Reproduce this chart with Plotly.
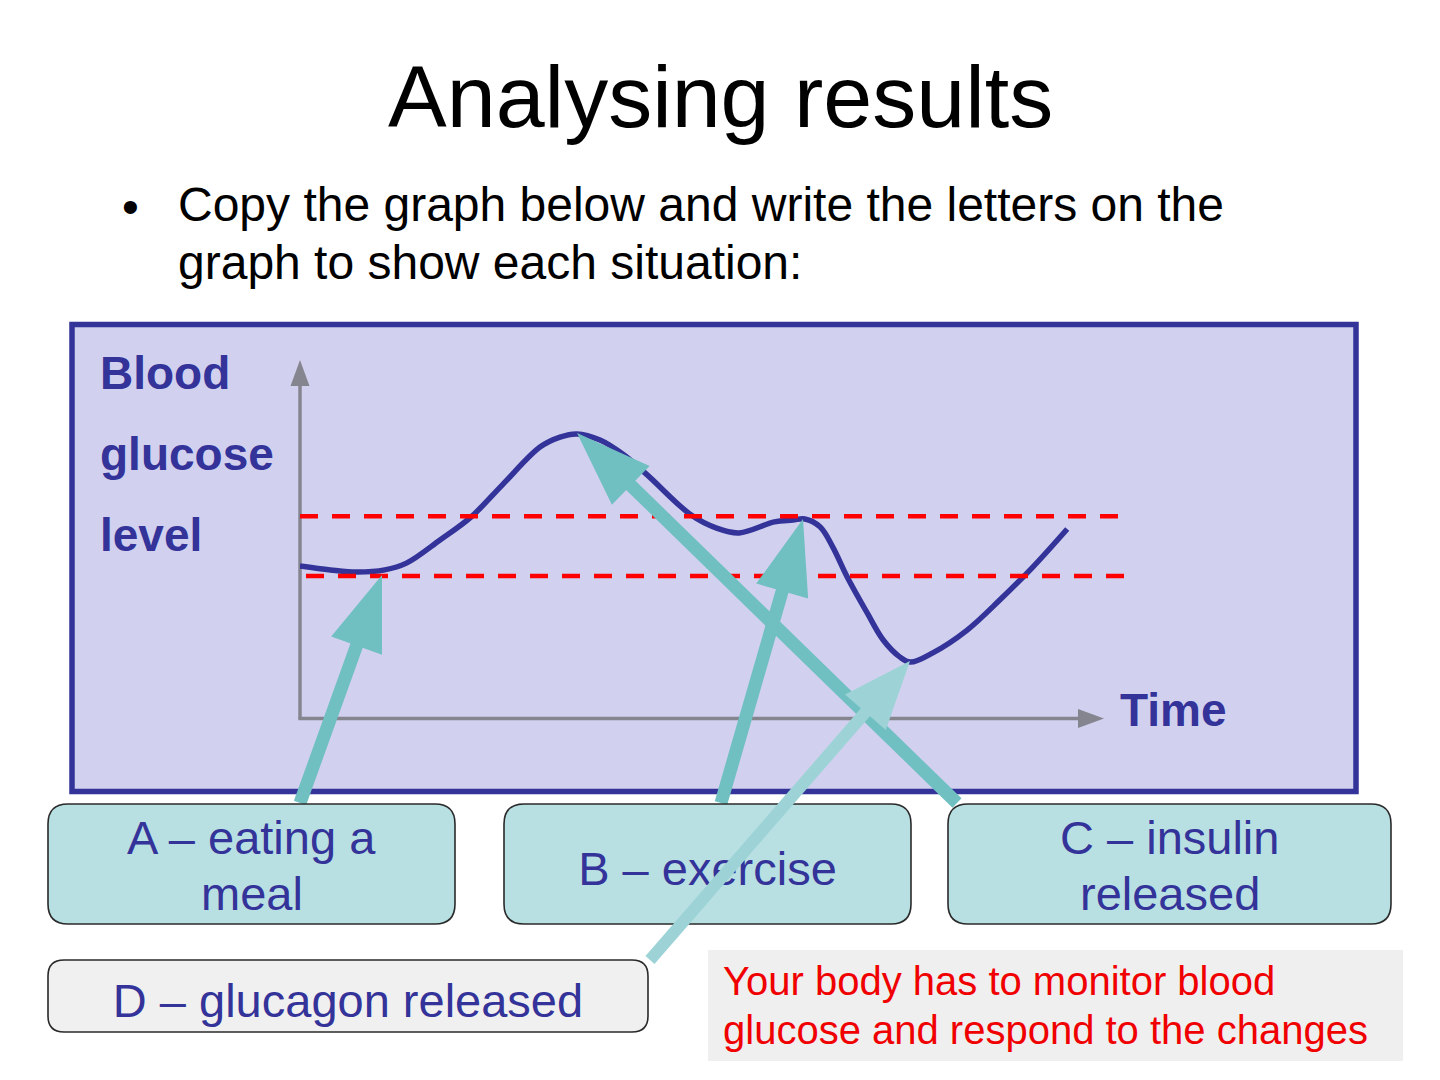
import math
import plotly.graph_objects as go

W, H = 1440, 1080

# ---------------- data ----------------
time = [0, 3.8, 7.1, 10.6, 13.3, 17.5, 21.4, 25.3, 30.0, 32.5, 34.6, 37.5, 40.5, 43.4,
        48.9, 52.0, 54.9, 59.3, 61.6, 63.1, 65.0, 66.6, 68.4, 70.9, 72.9, 75.0, 76.3,
        79.1, 83.4, 87.5, 91.6, 95.9]
glucose = [42.7, 41.6, 41.0, 41.6, 43.5, 50.0, 56.5, 65.5, 76.1, 78.9, 79.8, 78.1, 73.9, 68.3,
           57.0, 53.4, 52.0, 55.1, 55.6, 55.9, 53.7, 48.0, 39.6, 29.5, 21.9, 17.1, 15.7,
           18.3, 24.7, 33.2, 42.4, 53.1]
upper_time = [0, 103.5]
upper_level = [56.7, 56.7]
lower_time = [0.75, 104.3]
lower_level = [39.9, 39.9]

title_text = "Analysing results"
bullet_lines = ["Copy the graph below and write the letters on the",
                "graph to show each situation:"]
y_label_lines = ["Blood", "glucose", "level"]
x_label = "Time"
box_a_lines = ["A – eating a", "meal"]
box_b_label = "B – exercise"
box_c_lines = ["C – insulin", "released"]
box_d_label = "D – glucagon released"
note_lines = ["Your body has to monitor blood", "glucose and respond to the changes"]

# ---------------- styling ----------------
FONT = "Liberation Sans, Arial, sans-serif"
NAVY = "#333399"
TEAL = "#70BFC1"
TEAL_LIGHT = "#9DD3D6"
BOX_FILL = "#B8E0E3"
GREY_AX = "#858590"


def px(x):
    return x / W


def py(y):
    return 1 - y / H


shapes = []
annotations = []

# panel
shapes.append(dict(type="rect", xref="paper", yref="paper", layer="below",
                   x0=px(72), x1=px(1356), y0=py(324.5), y1=py(791.5),
                   fillcolor="#D1D1EF", line=dict(color=NAVY, width=5.5)))

# axes with arrowheads
shapes.append(dict(type="line", xref="paper", yref="paper", layer="below",
                   x0=px(300), x1=px(300), y0=py(719.5), y1=py(382),
                   line=dict(color=GREY_AX, width=3.5)))
shapes.append(dict(type="path", xref="paper", yref="paper", layer="below",
                   path=f"M{px(300)},{py(360)} L{px(309.5)},{py(386)} L{px(290.5)},{py(386)} Z",
                   fillcolor=GREY_AX, line=dict(width=0)))
shapes.append(dict(type="line", xref="paper", yref="paper", layer="below",
                   x0=px(298.5), x1=px(1082), y0=py(718.5), y1=py(718.5),
                   line=dict(color=GREY_AX, width=3.5)))
shapes.append(dict(type="path", xref="paper", yref="paper", layer="below",
                   path=f"M{px(1104)},{py(718.5)} L{px(1078)},{py(709)} L{px(1078)},{py(728)} Z",
                   fillcolor=GREY_AX, line=dict(width=0)))


def arrow(tail, tip, color, shaft_w=13, head_len=75, head_hw=27):
    dx, dy = tip[0] - tail[0], tip[1] - tail[1]
    L = math.hypot(dx, dy)
    ux, uy = dx / L, dy / L
    bx, by = tip[0] - ux * head_len, tip[1] - uy * head_len
    nx, ny = -uy, ux
    out = [dict(type="line", xref="paper", yref="paper", layer="above",
                x0=px(tail[0]), y0=py(tail[1]), x1=px(bx + ux * 3), y1=py(by + uy * 3),
                line=dict(color=color, width=shaft_w))]
    p1 = (bx + nx * head_hw, by + ny * head_hw)
    p2 = (bx - nx * head_hw, by - ny * head_hw)
    out.append(dict(type="path", xref="paper", yref="paper", layer="above",
                    path=f"M{px(tip[0])},{py(tip[1])} L{px(p1[0])},{py(p1[1])} "
                         f"L{px(p2[0])},{py(p2[1])} Z",
                    fillcolor=color, line=dict(width=0)))
    return out


def rrect(x0, y0, x1, y1, r):
    return (f"M{px(x0 + r)},{py(y0)} L{px(x1 - r)},{py(y0)} Q{px(x1)},{py(y0)} {px(x1)},{py(y0 + r)} "
            f"L{px(x1)},{py(y1 - r)} Q{px(x1)},{py(y1)} {px(x1 - r)},{py(y1)} "
            f"L{px(x0 + r)},{py(y1)} Q{px(x0)},{py(y1)} {px(x0)},{py(y1 - r)} "
            f"L{px(x0)},{py(y0 + r)} Q{px(x0)},{py(y0)} {px(x0 + r)},{py(y0)} Z")


def box(x0, y0, x1, y1, fill, text=None, r=20):
    d = dict(type="path", xref="paper", yref="paper", layer="above",
             path=rrect(x0, y0, x1, y1, r), fillcolor=fill,
             line=dict(color="#2A2A2A", width=1.6))
    if text:
        d["label"] = dict(text=text, textposition="middle center",
                          font=dict(family=FONT, size=47, color=NAVY))
    return d


shapes += arrow((300, 803), (382, 575), TEAL)
shapes += arrow((721, 803), (803, 519), TEAL)
shapes += arrow((957, 803), (577, 433), TEAL)
shapes.append(box(48, 804, 455, 924, BOX_FILL))
shapes.append(box(504, 804, 911, 924, BOX_FILL, box_b_label))
shapes.append(box(948, 804, 1391, 924, BOX_FILL))
shapes += arrow((650, 960), (910, 661), TEAL_LIGHT, shaft_w=12, head_len=68, head_hw=27)
shapes.append(box(48, 960, 648, 1032, "#F0F0F0", box_d_label, r=16))
shapes.append(dict(type="rect", xref="paper", yref="paper", layer="above",
                   x0=px(708), x1=px(1403), y0=py(950), y1=py(1061),
                   fillcolor="#EFEFEF", line=dict(width=0)))


def text(t, x, y, size, color, anchor="left"):
    annotations.append(dict(text=t, x=px(x), y=py(y), xref="paper", yref="paper",
                            xanchor=anchor, yanchor="middle", showarrow=False,
                            font=dict(family=FONT, size=size, color=color)))


text(title_text, 720, 96, 88, "black", "center")
text("•", 130, 206, 48, "black", "center")
for i, line in enumerate(bullet_lines):
    text(line, 176, 204 + 59 * i, 48, "black")
for i, line in enumerate(y_label_lines):
    text(f"<b>{line}</b>", 98, 373 + 81 * i, 46, NAVY)
text(f"<b>{x_label}</b>", 1118, 710, 46, NAVY)
for i, line in enumerate(box_a_lines):
    text(line, 251.5, 837 + 57 * i, 47, NAVY, "center")
for i, line in enumerate(box_c_lines):
    text(line, 1169.5, 837 + 57 * i, 47, NAVY, "center")
for i, line in enumerate(note_lines):
    text(line, 721, 981 + 49 * i, 40, "#F00000")

fig = go.Figure()
fig.add_trace(go.Scatter(x=time, y=glucose, mode="lines",
                         line=dict(color=NAVY, width=5.5, shape="spline", smoothing=1.0),
                         hoverinfo="skip", showlegend=False))
fig.add_trace(go.Scatter(x=upper_time, y=upper_level, mode="lines",
                         line=dict(color="#FF0000", width=4.5, dash="18px,14px"),
                         hoverinfo="skip", showlegend=False))
fig.add_trace(go.Scatter(x=lower_time, y=lower_level, mode="lines",
                         line=dict(color="#FF0000", width=4.5, dash="18px,14px"),
                         hoverinfo="skip", showlegend=False))

fig.update_layout(
    width=W, height=H, margin=dict(l=0, r=0, t=0, b=0),
    paper_bgcolor="white", plot_bgcolor="rgba(0,0,0,0)",
    xaxis=dict(domain=[px(300), px(1140)], range=[0, 105], visible=False, fixedrange=True),
    yaxis=dict(domain=[py(718), py(362)], range=[0, 100], visible=False, fixedrange=True),
    shapes=shapes, annotations=annotations, showlegend=False,
)

fig.write_html("out.html")
